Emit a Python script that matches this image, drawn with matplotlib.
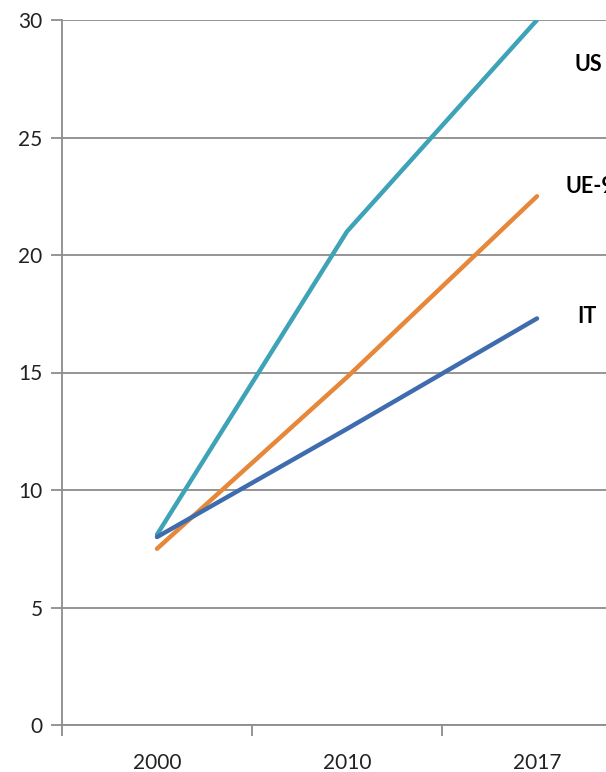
import matplotlib.pyplot as plt

# data
years = ['2000', '2010', '2017']
us = [8.1, 21.0, 30.0]
ue = [7.5, 14.8, 22.5]
it = [8.0, 12.6, 17.3]
series_labels = ['US', 'UE-9', 'IT']

W, H = 606, 772
fig = plt.figure(figsize=(W / 100, H / 100), dpi=100)
# plot area runs past the right edge, as in the cropped original
left, right = 62 / W, 632 / W
bottom, top = 1 - 725 / H, 1 - 20 / H
ax = fig.add_axes([left, bottom, right - left, top - bottom])

grid_col = '#8c8c8c'
x = range(len(years))
ax.plot(x, us, color='#3fa3b8', lw=3.2, solid_capstyle='round', zorder=3)
ax.plot(x, ue, color='#e6873a', lw=3.2, solid_capstyle='round', zorder=3)
ax.plot(x, it, color='#3e6caf', lw=3.2, solid_capstyle='round', zorder=4)

ax.set_xlim(-0.5, 2.5)
ax.set_ylim(0, 30)
ax.set_yticks(range(0, 31, 5))
ax.yaxis.grid(True, color=grid_col, lw=1.3)
ax.set_axisbelow(True)

# category ticks sit between the categories
ax.set_xticks([-0.5, 0.5, 1.5])
ax.set_xticklabels([])
ax.set_xticks(list(x), minor=True)
ax.set_xticklabels(years, minor=True)
ax.tick_params(axis='x', which='major', length=8, width=1.3, color=grid_col)
ax.tick_params(axis='x', which='minor', length=0, pad=20)
ax.tick_params(axis='y', length=8, width=1.3, color=grid_col, pad=6)
ax.tick_params(which='both', labelsize=15, labelcolor='#222222')
for lab in ax.get_xticklabels(minor=True) + ax.get_yticklabels():
    lab.set_fontfamily('Lato')

for side in ['top', 'right']:
    ax.spines[side].set_visible(False)
for side in ['left', 'bottom']:
    ax.spines[side].set_color(grid_col)
    ax.spines[side].set_linewidth(1.3)

# series labels to the right of the lines (UE-9 is cut by the edge, as in the original)
ax.text(2.2, 28.1, series_labels[0], fontsize=15.5, fontweight='bold', family='Lato', va='center')
ax.text(2.15, 22.9, series_labels[1], fontsize=15.5, fontweight='bold', family='Lato', va='center')
ax.text(2.21, 17.4, series_labels[2], fontsize=15.5, fontweight='bold', family='Lato', va='center')

fig.savefig('out.png', dpi=100)
